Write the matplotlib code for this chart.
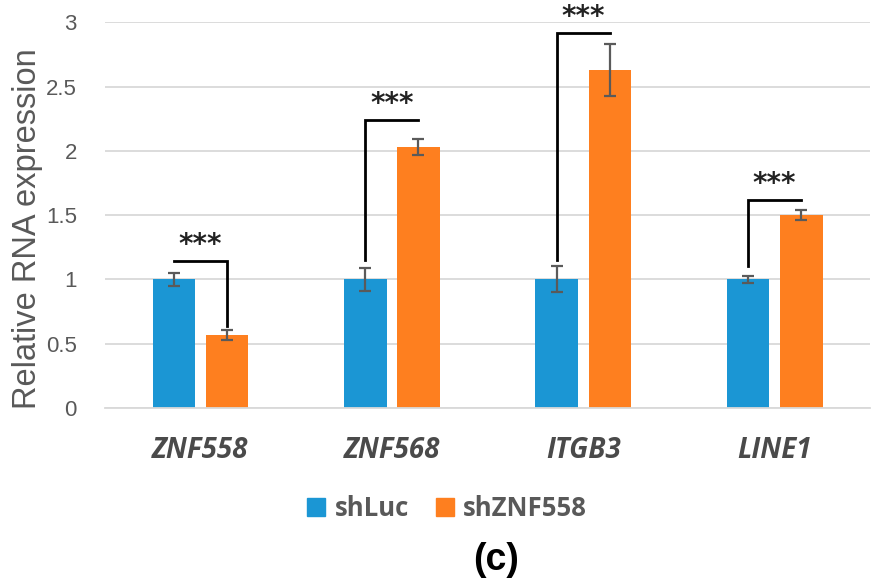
import matplotlib
matplotlib.use("Agg")
import matplotlib.pyplot as plt
import numpy as np
from matplotlib.patches import Patch

categories = ["ZNF558", "ZNF568", "ITGB3", "LINE1"]
series_names = ["shLuc", "shZNF558"]
shluc = [1.0, 1.0, 1.0, 1.0]
shluc_err = [0.05, 0.087, 0.1, 0.025]
shznf = [0.567, 2.03, 2.63, 1.5]
shznf_err = [0.04, 0.06, 0.2, 0.04]
# significance brackets: (low end height at shLuc side, top height, low end at shZNF558 side)
br_left = [1.145, 1.15, 1.15, 1.10]
br_top = [1.145, 2.238, 2.92, 1.616]
br_right = [0.637, 2.238, 2.92, 1.616]
sig_labels = ["***", "***", "***", "***"]
yticks = [0, 0.5, 1, 1.5, 2, 2.5, 3]
ytick_labels = ["0", "0.5", "1", "1.5", "2", "2.5", "3"]

blue = "#1b96d4"
orange = "#fe7f1f"
gray_txt = "#595959"

fig = plt.figure(figsize=(8.73, 5.86), dpi=100)
ax = fig.add_axes([0.120, 0.304, 0.877, 0.658])

x = np.arange(len(categories))
w = 0.222
off = 0.139
ax.bar(x - off, shluc, w, color=blue, zorder=2)
ax.bar(x + off, shznf, w, color=orange, zorder=2)
ax.errorbar(x - off, shluc, yerr=shluc_err, fmt="none", ecolor="#5a5a5a",
            elinewidth=1.6, capsize=4.5, capthick=1.6, zorder=3)
ax.errorbar(x + off, shznf, yerr=shznf_err, fmt="none", ecolor="#5a5a5a",
            elinewidth=1.6, capsize=4.5, capthick=1.6, zorder=3)

for i in range(len(categories)):
    xl, xr = x[i] - off, x[i] + off
    ax.plot([xl, xl, xr, xr], [br_left[i], br_top[i], br_top[i], br_right[i]],
            color="black", lw=2, clip_on=False, zorder=4, solid_joinstyle="miter")
    ax.text(x[i], br_top[i] + 0.015, sig_labels[i], ha="center", va="bottom",
            fontsize=20, fontweight="bold", color="#222222", clip_on=False,
            family="DejaVu Sans")

ax.set_ylim(0, 3)
ax.set_xlim(-0.5, len(categories) - 0.5)
ax.set_yticks(yticks)
ax.set_yticklabels(ytick_labels, fontsize=16, color=gray_txt, family="Liberation Sans")
ax.tick_params(axis="y", length=0, pad=20)
ax.tick_params(axis="x", length=0, pad=20)
ax.set_xticks(x)
ax.set_xticklabels(categories, fontsize=20, fontweight="bold", fontstyle="italic",
                   color="#4a4a4a", family="Open Sans")
ax.yaxis.grid(True, color="#d9d9d9", lw=1.3, zorder=0)
ax.set_axisbelow(True)
for s in ["top", "right", "left"]:
    ax.spines[s].set_visible(False)
ax.spines["bottom"].set_color("#d9d9d9")
ax.spines["bottom"].set_linewidth(1.3)

ax.set_ylabel("Relative RNA expression", fontsize=23.5, color=gray_txt,
              family="Liberation Sans", va="center")
ax.yaxis.set_label_coords(-0.101, 0.466)

handles = [Patch(color=blue), Patch(color=orange)]
leg = fig.legend(handles, series_names, loc="center", bbox_to_anchor=(0.512, 0.133),
                 ncol=2, frameon=False, handlelength=0.7, handleheight=0.7,
                 handletextpad=0.35, columnspacing=1.05,
                 prop={"size": 18.5, "weight": "bold", "family": "Open Sans"})
for t in leg.get_texts():
    t.set_color(gray_txt)

fig.text(0.568, 0.044, "(c)", ha="center", va="center", fontsize=27,
         fontweight="bold", family="Liberation Sans")

fig.savefig("out.png", dpi=100)
